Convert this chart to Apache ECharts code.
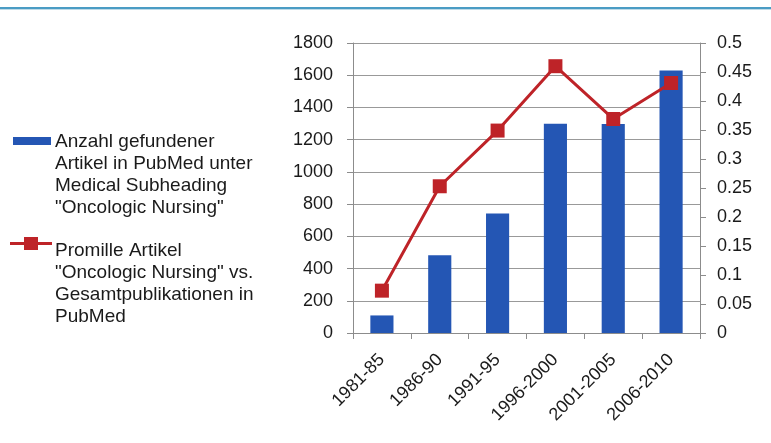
<!DOCTYPE html>
<html>
<head>
<meta charset="utf-8">
<script src="https://cdn.jsdelivr.net/npm/echarts@6/dist/echarts.min.js"></script>
<style>
  html, body { margin: 0; padding: 0; background: #fff; }
  #chart { width: 771px; height: 443px; }
</style>
</head>
<body>
<div id="chart"></div>
<script>
// Zeiträume
const periods = ['1981-85', '1986-90', '1991-95', '1996-2000', '2001-2005', '2006-2010'];
// Anzahl gefundener Artikel (linke Achse)
const articleCounts = [109, 482, 741, 1299, 1298, 1630];
// Promille Artikel (rechte Achse)
const permille = [0.073, 0.253, 0.349, 0.46, 0.369, 0.431];
const leftTicks = { min: 0, max: 1800, interval: 200 };
const rightTicks = { min: 0, max: 0.5, interval: 0.05 };

const legendBar = ['Anzahl gefundener', 'Artikel in PubMed unter', 'Medical Subheading', '"Oncologic Nursing"'];
const legendLine = ['Promille Artikel', '"Oncologic Nursing" vs.', 'Gesamtpublikationen in', 'PubMed'];

const font = 'Liberation Sans, Arial, sans-serif';
const axisGray = '#8c8c8c';
const barBlue = '#2456b4';
const lineRed = '#be2328';
const textColor = '#1a1a1a';

const chart = echarts.init(document.getElementById('chart'));
chart.setOption({
  animation: false,
  textStyle: { fontFamily: font },
  grid: { left: 353, right: 71, top: 43, bottom: 110 },
  xAxis: {
    type: 'category',
    data: periods,
    axisLine: { lineStyle: { color: axisGray } },
    axisTick: { show: true, length: 6, lineStyle: { color: axisGray } },
    axisLabel: { rotate: 45, margin: 24, fontSize: 18, color: textColor, fontFamily: font }
  },
  yAxis: [
    {
      type: 'value',
      min: leftTicks.min, max: leftTicks.max, interval: leftTicks.interval,
      axisLine: { show: true, lineStyle: { color: axisGray } },
      axisTick: { show: true, length: 6, lineStyle: { color: axisGray } },
      axisLabel: { margin: 20, fontSize: 18, color: textColor, fontFamily: font, formatter: v => String(v) },
      splitLine: { lineStyle: { color: '#999', width: 1 } }
    },
    {
      type: 'value',
      min: rightTicks.min, max: rightTicks.max, interval: rightTicks.interval,
      axisLine: { show: true, lineStyle: { color: axisGray } },
      axisTick: { show: true, length: 6, lineStyle: { color: axisGray } },
      axisLabel: { margin: 17, fontSize: 18, color: textColor, fontFamily: font, formatter: v => String(+v.toFixed(2)) },
      splitLine: { show: false }
    }
  ],
  series: [
    {
      name: 'Anzahl',
      type: 'bar',
      data: articleCounts,
      barWidth: '40%',
      itemStyle: { color: barBlue },
      yAxisIndex: 0
    },
    {
      name: 'Promille',
      type: 'line',
      data: permille,
      yAxisIndex: 1,
      symbol: 'rect',
      symbolSize: 14,
      lineStyle: { color: lineRed, width: 3 },
      itemStyle: { color: lineRed }
    }
  ],
  graphic: [
    { type: 'rect', left: 0, top: 7, shape: { width: 771, height: 2 }, style: { fill: '#4a9cc4' } },
    { type: 'rect', left: 0, top: 9, shape: { width: 771, height: 1 }, style: { fill: '#bfdbe8' } },
    { type: 'rect', left: 13, top: 137, shape: { width: 38, height: 8 }, style: { fill: barBlue } },
    {
      type: 'text', left: 55, top: 131,
      style: { text: legendBar.join('\n'), font: '19px ' + font, lineHeight: 22, fill: textColor }
    },
    { type: 'rect', left: 10, top: 242, shape: { width: 42, height: 3 }, style: { fill: lineRed } },
    { type: 'rect', left: 24, top: 237, shape: { width: 14, height: 13 }, style: { fill: lineRed } },
    {
      type: 'text', left: 55, top: 240,
      style: { text: legendLine.join('\n'), font: '19px ' + font, lineHeight: 22, fill: textColor }
    }
  ]
});
</script>
</body>
</html>
